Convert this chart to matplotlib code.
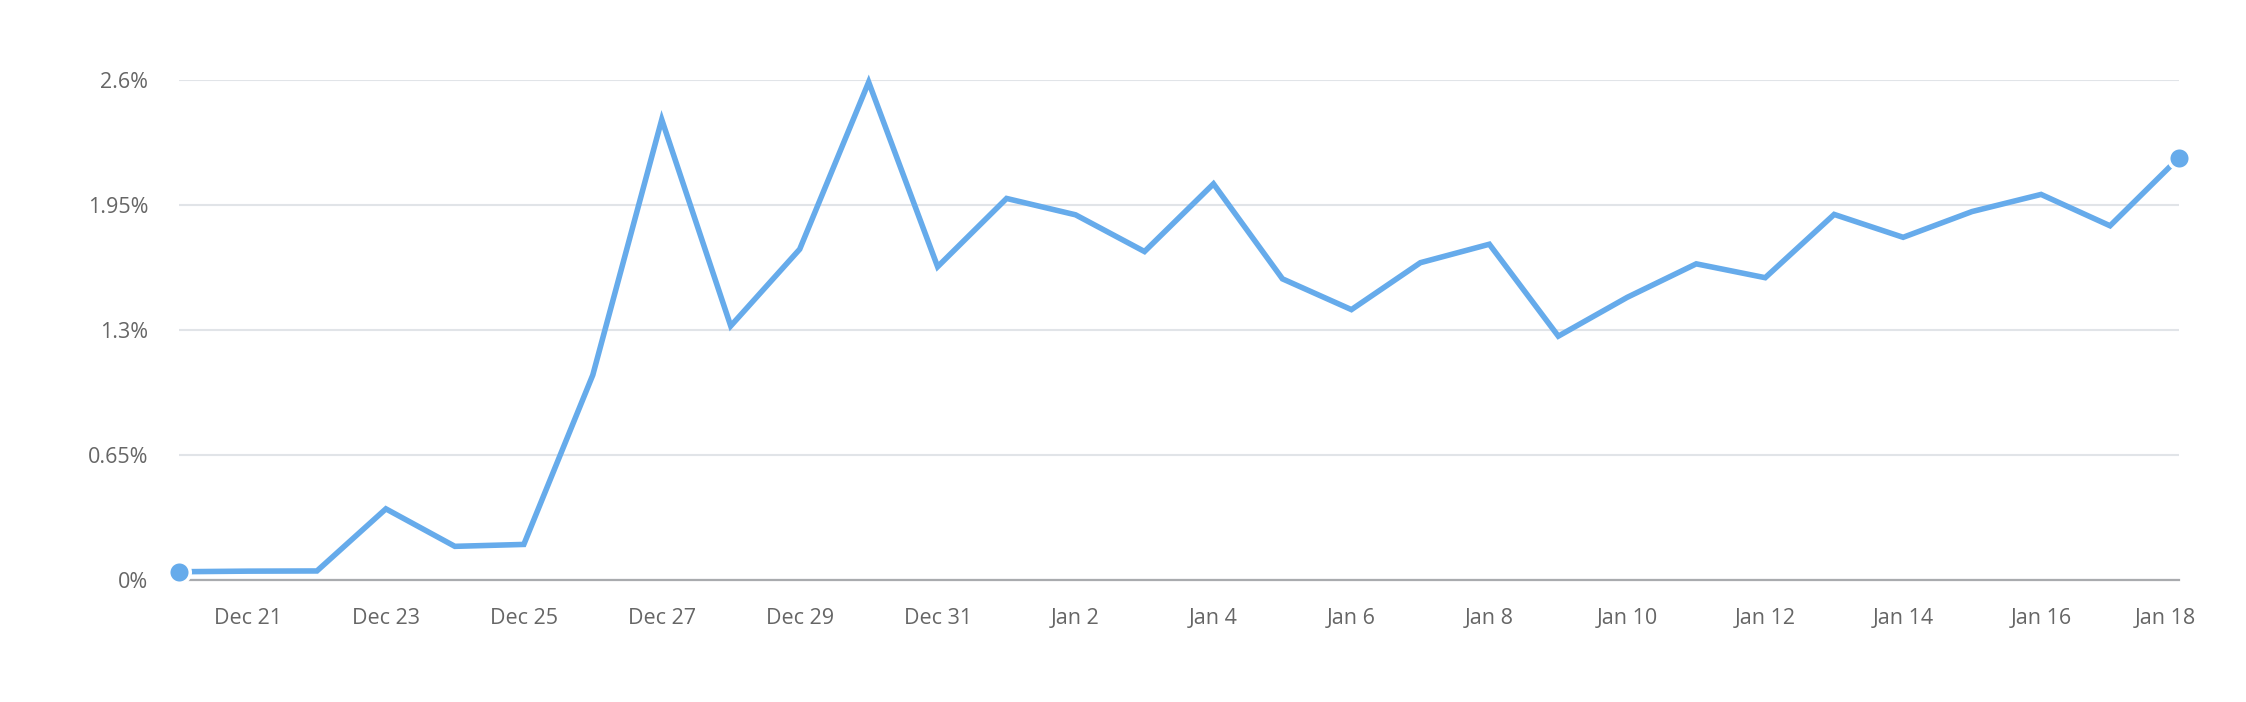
import matplotlib
matplotlib.use("Agg")
from matplotlib import pyplot as plt
import matplotlib.transforms as mtransforms

plt.rcParams['font.family'] = ['Open Sans', 'DejaVu Sans']

days = ['Dec 20', 'Dec 21', 'Dec 22', 'Dec 23', 'Dec 24', 'Dec 25', 'Dec 26', 'Dec 27',
        'Dec 28', 'Dec 29', 'Dec 30', 'Dec 31', 'Jan 1', 'Jan 2', 'Jan 3', 'Jan 4',
        'Jan 5', 'Jan 6', 'Jan 7', 'Jan 8', 'Jan 9', 'Jan 10', 'Jan 11', 'Jan 12',
        'Jan 13', 'Jan 14', 'Jan 15', 'Jan 16', 'Jan 17', 'Jan 18']
rate = [0.043, 0.046, 0.047, 0.37, 0.175, 0.185, 1.066, 2.394,
        1.321, 1.72, 2.589, 1.629, 1.984, 1.899, 1.708, 2.06,
        1.566, 1.406, 1.65, 1.746, 1.268, 1.47, 1.644, 1.572,
        1.901, 1.782, 1.916, 2.005, 1.842, 2.196]
y_ticks = [0, 0.65, 1.3, 1.95, 2.6]
y_labels = ['0%', '0.65%', '1.3%', '1.95%', '2.6%']
x_label_days = ['Dec 21', 'Dec 23', 'Dec 25', 'Dec 27', 'Dec 29', 'Dec 31', 'Jan 2',
                'Jan 4', 'Jan 6', 'Jan 8', 'Jan 10', 'Jan 12', 'Jan 14', 'Jan 16', 'Jan 18']

blue = '#66abeb'
text_gray = '#666666'

fig = plt.figure(figsize=(22.46, 7.02), dpi=100)
ax = fig.add_axes([179 / 2246, 1 - 580 / 702, 2000 / 2246, 500 / 702])

x = list(range(len(days)))
ax.plot(x, rate, color=blue, lw=4, solid_joinstyle='miter', clip_on=False, zorder=3)
ax.plot([x[0], x[-1]], [rate[0], rate[-1]], 'o', color=blue, ms=15.5,
        markeredgecolor='white', markeredgewidth=2.5, clip_on=False, zorder=4)

ax.set_xlim(0, len(days) - 1)
ax.set_ylim(0, 2.6)

ax.set_yticks(y_ticks)
ax.set_yticklabels(y_labels)
tick_pos = [days.index(d) for d in x_label_days]
ax.set_xticks(tick_pos)
ax.set_xticklabels(x_label_days)

ax.grid(axis='y', color='#e1e4e8', lw=1.5)
ax.set_axisbelow(True)
for s in ['top', 'right', 'left']:
    ax.spines[s].set_visible(False)
ax.spines['bottom'].set_color('#a9abae')
ax.spines['bottom'].set_linewidth(1.6)

ax.tick_params(axis='both', length=0, labelsize=15.5, labelcolor=text_gray)
ax.tick_params(axis='y', pad=22)
ax.tick_params(axis='x', pad=20)

# last label sits a bit left of its point
last = ax.get_xticklabels()[-1]
last.set_transform(last.get_transform() + mtransforms.ScaledTranslation(-0.14, 0, fig.dpi_scale_trans))

fig.savefig('out.png', dpi=100, facecolor='white')
